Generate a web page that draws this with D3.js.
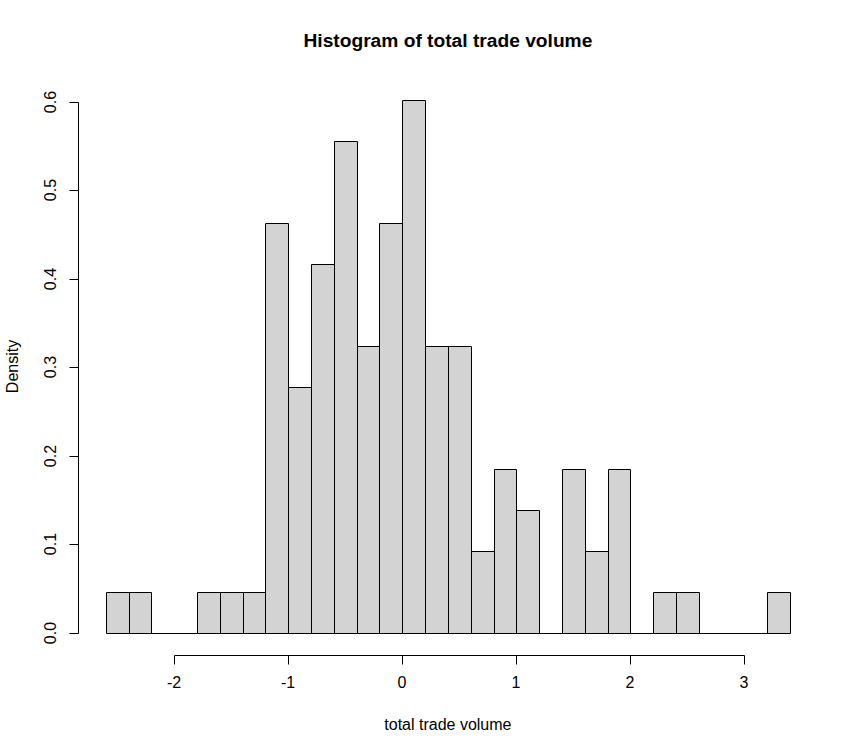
<!DOCTYPE html>
<html>
<head>
<meta charset="utf-8">
<script src="https://cdn.jsdelivr.net/npm/d3@7"></script>
<style>
html,body{margin:0;padding:0;background:#fff;}
svg text{font-family:"Liberation Sans",Arial,sans-serif;fill:#000;}
</style>
</head>
<body>
<svg id="chart" width="858" height="753"></svg>
<script>
// Histogram breaks (bin edges) and counts per bin
const breaks = [-2.6,-2.4,-2.2,-2.0,-1.8,-1.6,-1.4,-1.2,-1.0,-0.8,-0.6,-0.4,-0.2,0.0,0.2,0.4,0.6,0.8,1.0,1.2,1.4,1.6,1.8,2.0,2.2,2.4,2.6,2.8,3.0,3.2,3.4];
const counts = [1,1,0,0,1,1,1,10,6,9,12,7,10,13,7,7,2,4,3,0,4,2,4,0,1,1,0,0,0,1];
const xTicks = [-2,-1,0,1,2,3];
const xTickLabels = ["-2","-1","0","1","2","3"];
const yTicks = [0.0,0.1,0.2,0.3,0.4,0.5,0.6];
const yTickLabels = ["0.0","0.1","0.2","0.3","0.4","0.5","0.6"];
const title = "Histogram of total trade volume";
const xLabel = "total trade volume";
const yLabel = "Density";

const n = d3.sum(counts);
const bins = counts.map((c,i)=>({x0:breaks[i], x1:breaks[i+1], density:c/(n*(breaks[i+1]-breaks[i]))}));
const maxD = d3.max(bins, d=>d.density);

const svg = d3.select("#chart");
const xMin = breaks[0], xMax = breaks[breaks.length-1];
const xPad = (xMax-xMin)*0.04, yPad = maxD*0.04;
const x = d3.scaleLinear().domain([xMin-xPad, xMax+xPad]).range([78.5, 817.3]);
const y = d3.scaleLinear().domain([-yPad, maxD+yPad]).range([654.3, 78.7]);

const r = v => Math.round(v)+0.5;

// bars (drawn as closed paths so zero-height bins show as a baseline segment)
svg.append("g").selectAll("path").data(bins).join("path")
  .attr("d", d=>{
    const x0=r(x(d.x0)), x1=r(x(d.x1)), y0=r(y(0)), y1=r(y(d.density));
    return `M${x0},${y0}V${y1}H${x1}V${y0}Z`;
  })
  .attr("fill","#d3d3d3")
  .attr("stroke","#000")
  .attr("stroke-width",1);

// x axis
const xAxis = d3.axisBottom(x).tickValues(xTicks).tickFormat((d,i)=>xTickLabels[i]).tickSize(9).tickPadding(13);
const gx = svg.append("g").attr("transform","translate(0,655)").call(xAxis);
gx.select(".domain").remove();
gx.append("line").attr("x1",r(x(xTicks[0]))).attr("x2",r(x(xTicks[xTicks.length-1])))
  .attr("y1",0.5).attr("y2",0.5).attr("stroke","#000");
gx.selectAll(".tick").attr("transform", d=>`translate(${Math.round(x(d))},0)`);
gx.selectAll(".tick line").attr("stroke","#000").attr("transform","translate(0.5,0.5)");
gx.selectAll(".tick text").attr("font-size","16px").attr("font-family","Liberation Sans, Arial, sans-serif").attr("fill","#000");

// y axis
const yAxis = d3.axisLeft(y).tickValues(yTicks).tickFormat((d,i)=>yTickLabels[i]).tickSize(9).tickPadding(12);
const gy = svg.append("g").attr("transform","translate(78,0)").call(yAxis);
gy.select(".domain").remove();
gy.append("line").attr("x1",0.5).attr("x2",0.5)
  .attr("y1",r(y(yTicks[yTicks.length-1]))).attr("y2",r(y(yTicks[0]))).attr("stroke","#000");
gy.selectAll(".tick").attr("transform", d=>`translate(0,${Math.round(y(d))})`);
gy.selectAll(".tick line").attr("stroke","#000").attr("transform","translate(0.5,0.5)");
gy.selectAll(".tick text")
  .attr("font-size","16px").attr("font-family","Liberation Sans, Arial, sans-serif").attr("fill","#000")
  .attr("x",null).attr("dy",null)
  .attr("text-anchor","middle")
  .attr("transform","translate(-22,0) rotate(-90)");

// title
svg.append("text").attr("x",(x.range()[0]+x.range()[1])/2).attr("y",47)
  .attr("text-anchor","middle").attr("font-weight","bold").attr("font-size","19.2px").text(title);
// x label
svg.append("text").attr("x",(x.range()[0]+x.range()[1])/2).attr("y",730)
  .attr("text-anchor","middle").attr("font-size","16px").text(xLabel);
// y label
svg.append("text").attr("transform",`translate(18,${(y.range()[0]+y.range()[1])/2}) rotate(-90)`)
  .attr("text-anchor","middle").attr("font-size","16px").text(yLabel);
</script>
</body>
</html>
